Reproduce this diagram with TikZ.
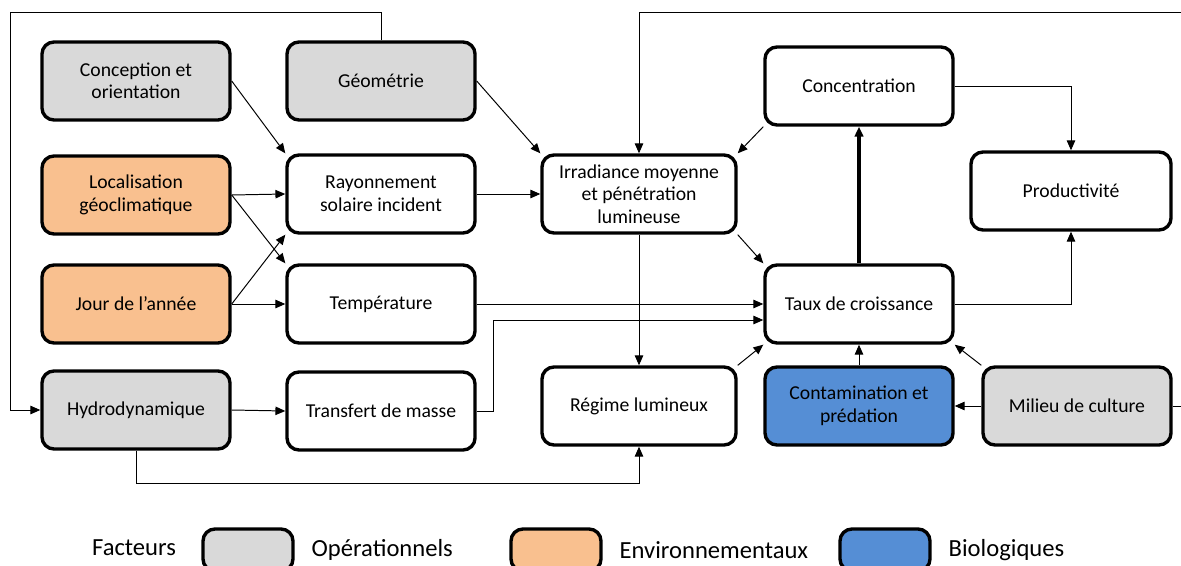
\documentclass[tikz,border=0pt]{standalone}
\usepackage{fontspec}
\setmainfont{Carlito}
\usetikzlibrary{arrows.meta,positioning}

\definecolor{opgray}{HTML}{D9D9D9}
\definecolor{envorange}{HTML}{F9C08F}
\definecolor{bioblue}{HTML}{558ED5}

\begin{document}
\begin{tikzpicture}[x=0.025cm, y=-0.025cm]
\tikzstyle{factor} = [draw, line width=2.4pt, rounded corners=0.3cm,
  minimum width=4.7cm, minimum height=1.95cm, inner sep=2pt,
  align=center, font=\fontsize{14}{16}\selectfont]
\tikzstyle{result} = [factor, fill=white]
\tikzstyle{oper} = [factor, fill=opgray]
\tikzstyle{env} = [factor, fill=envorange]
\tikzstyle{bio} = [factor, fill=bioblue]
\tikzstyle{legbox} = [factor, minimum width=2.25cm, minimum height=1.05cm]
\tikzstyle{legtext} = [font=\fontsize{17.5}{20}\selectfont]
\tikzstyle{link} = [-{Triangle[length=7pt,width=6pt]}, line width=0.7pt]

\useasboundingbox (0,0) rectangle (1181,565);

% first column: factors
\node[oper] (concept) at (136,81) {Conception et\\orientation};
\node[env] (loc) at (136,195) {Localisation\\géoclimatique};
\node[env] (jour) at (136,304) {Jour de l’année};
\node[oper] (hydro) at (136,410) {Hydrodynamique};

% second column
\node[oper] (geom) at (381,81) {Géométrie};
\node[result] (rayon) at (381,194) {Rayonnement\\solaire incident};
\node[result] (temp) at (381,304) {Température};
\node[result] (transf) at (381,411) {Transfert de masse};

% third column
\node[result, minimum width=4.85cm] (irrad) at (639,194)
  {Irradiance moyenne\\et pénétration\\lumineuse};
\node[result, minimum width=4.85cm] (regime) at (639,406) {Régime lumineux};

% fourth column
\node[result] (conc) at (859,86) {Concentration};
\node[result] (taux) at (859,304) {Taux  de croissance};
\node[bio] (contam) at (859,406) {Contamination et\\prédation};

% last column
\node[result, minimum width=5cm] (prod) at (1071,191) {Productivité};
\node[oper] (milieu) at (1077,406) {Milieu de culture};

\coordinate (topleft) at (10,12);
\coordinate (topright) at (639,12);
\coordinate (bottomrun) at (639,483);
\coordinate (taux in) at ([yshift=-0.4cm]taux.west);

\draw[link] (concept.east) -- (rayon.north west);
\draw[link] (geom.east) -- (irrad.north west);
\draw[link] (loc.east) -- (rayon.west);
\draw[link] (loc.east) -- (temp.north west);
\draw[link] (jour.east) -- (rayon.south west);
\draw[link] (jour.east) -- (temp.west);
\draw[link] (rayon.east) -- (irrad.west);
\draw[link] (hydro.east) -- (transf.west);
\draw[link] (irrad.south east) -- (taux.north west);
\draw[link] (irrad.south) -- (regime.north);
\draw[link] (temp.east) -- (temp.east -| taux.west);
\draw[link] (transf.east) -- ++(17,0) |- (taux in);
\draw[link] (regime.north east) -- (taux.south west);
\draw[link] (contam.north) -- (taux.south);
\draw[link] (milieu.north west) -- (taux.south east);
\draw[link] (milieu.west) -- (contam.east);
\draw[link, line width=2.4pt] (taux.north) -- (conc.south);
\draw[link] (conc.south west) -- (irrad.north east);
\draw[link] (conc.east) -| (prod.north);
\draw[link] (taux.east) -| (prod.south);
\draw[link] (geom.north) |- (topleft) |- (hydro.west);
\draw[link] (hydro.south) |- (bottomrun) -- (regime.south);
\draw[link] (milieu.east) -- ++(20,0) |- (topright) -- (irrad.north);

% legend
\node[legtext] (facteurs) at (134,548) {Facteurs};
\node[legbox, fill=opgray] (legop) at (248,550) {};
\node[legtext, right=0.3cm of legop] (legoptext) {Opérationnels};
\node[legbox, fill=envorange] (legenv) at (556,550) {};
\node[legtext, right=0.3cm of legenv] (legenvtext) {Environnementaux};
\node[legbox, fill=bioblue] (legbio) at (885,550) {};
\node[legtext, right=0.3cm of legbio] (legbiotext) {Biologiques};
\end{tikzpicture}
\end{document}
